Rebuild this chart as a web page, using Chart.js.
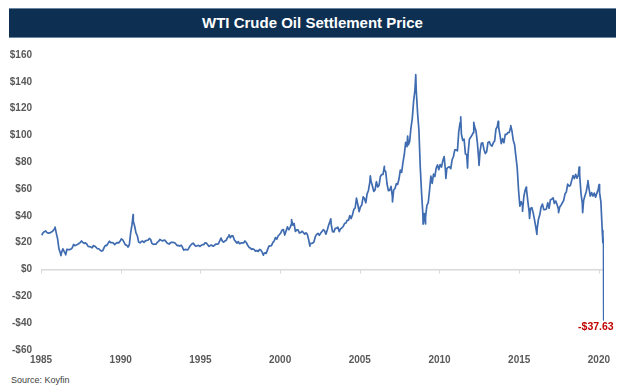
<!DOCTYPE html>
<html>
<head>
<meta charset="utf-8">
<script src="https://cdn.jsdelivr.net/npm/chart.js@4/dist/chart.umd.min.js"></script>
<style>
  body { margin: 0; width: 625px; height: 391px; background: #fff; position: relative; overflow: hidden; font-family: "Liberation Sans", Arial, sans-serif; }
  #title-bar { position: absolute; left: 9px; top: 8px; width: 607px; height: 30px; box-sizing: border-box;
    background: #0c2f52; border-top: 1px solid #6b84a0; border-bottom: 1px solid #6b84a0;
    color: #fff; font-weight: bold; font-size: 15px; text-align: center; line-height: 28px; }
  #chart-wrap { position: absolute; left: 0; top: 40px; width: 625px; height: 330px; }
  #source { position: absolute; left: 11px; top: 375px; font-size: 9px; color: #404040; }
</style>
</head>
<body>
<div id="title-bar">WTI Crude Oil Settlement Price</div>
<div id="chart-wrap"><canvas id="oilChart"></canvas></div>
<div id="source">Source: Koyfin</div>

<script>
const startYear = 1985;

// monthly settlement levels, Jan 1985 .. Mar 2020
const monthlyPrice = [
    25.6, 27.3, 28.2, 28.8, 27.6, 27.1, 27.3, 27.8, 28.3, 29.5, 30.8, 27.2, // 1985
    22.9, 15.5, 12.6, 12.8, 15.4, 13.4, 11.6, 15.1, 14.9, 14.9, 15.2, 16.1, // 1986
    18.7, 17.8, 18.3, 18.7, 19.4, 20.1, 21.3, 20.3, 19.5, 19.9, 18.9, 17.3, // 1987
    17.1, 16.8, 16.2, 17.9, 17.4, 16.5, 15.5, 15.5, 14.5, 13.8, 14.1, 16.4, // 1988
    18.0, 17.9, 19.5, 21.1, 20.1, 20.1, 19.8, 18.6, 19.6, 20.1, 19.9, 21.1, // 1989
    22.9, 22.1, 20.4, 18.4, 18.2, 16.7, 18.5, 27.3, 33.5, 36.0, 32.3, 27.3, // 1990
    25.2, 20.5, 19.9, 20.8, 21.2, 20.2, 21.4, 21.7, 21.9, 23.2, 22.5, 19.5, // 1991
    18.8, 19.0, 18.9, 20.2, 21.0, 22.4, 21.8, 21.3, 21.9, 21.7, 20.3, 19.4, // 1992
    19.0, 20.1, 20.3, 20.3, 20.0, 19.1, 17.9, 18.0, 17.5, 18.2, 16.6, 14.5, // 1993
    15.0, 14.8, 14.7, 16.4, 17.9, 19.1, 19.7, 18.4, 17.5, 17.7, 18.1, 17.2, // 1994
    18.0, 18.6, 18.5, 19.9, 19.7, 18.5, 17.3, 18.0, 18.2, 17.4, 18.0, 19.0, // 1995
    18.9, 19.1, 21.3, 23.5, 21.2, 20.4, 21.3, 21.9, 24.0, 24.9, 23.7, 25.2, // 1996
    25.1, 22.2, 21.0, 19.7, 20.8, 19.3, 19.7, 20.0, 19.8, 21.3, 20.2, 18.3, // 1997
    16.7, 16.1, 15.1, 15.4, 14.9, 13.7, 14.2, 13.5, 15.0, 14.5, 13.0, 11.4, // 1998
    12.5, 12.0, 14.7, 17.3, 17.7, 17.9, 20.1, 21.3, 23.8, 22.7, 25.0, 26.1, // 1999
    27.3, 29.4, 29.8, 25.7, 28.8, 31.8, 29.7, 31.3, 33.9, 33.1, 34.4, 28.4, // 2000
    29.6, 29.6, 27.3, 27.5, 28.6, 27.6, 26.4, 27.4, 26.2, 22.2, 19.6, 19.4, // 2001
    19.7, 20.7, 24.5, 26.2, 27.0, 25.5, 27.0, 28.4, 29.7, 28.8, 26.4, 29.5, // 2002
    33.0, 35.8, 33.5, 28.2, 28.1, 30.7, 30.8, 31.6, 28.3, 30.3, 31.1, 32.1, // 2003
    34.3, 34.7, 36.7, 36.8, 40.3, 38.0, 40.8, 44.9, 45.9, 53.3, 48.5, 43.2, // 2004
    46.8, 48.2, 54.2, 53.0, 49.8, 56.4, 59.0, 65.0, 65.6, 62.3, 58.3, 59.4, // 2005
    65.5, 61.6, 62.7, 69.4, 70.8, 71.0, 74.4, 73.0, 63.8, 58.9, 59.1, 62.0, // 2006
    54.5, 59.3, 60.4, 64.0, 63.5, 67.5, 74.1, 72.4, 79.9, 85.8, 94.8, 91.7, // 2007
    93.0, 95.4, 105.5, 112.6, 125.4, 133.9, 133.4, 116.7, 104.1, 76.6, 57.3, 41.1, // 2008
    41.7, 39.1, 47.9, 49.7, 59.0, 69.6, 64.2, 71.1, 69.4, 75.7, 78.0, 74.5, // 2009
    78.3, 76.4, 81.2, 84.3, 73.7, 75.3, 76.3, 76.6, 75.2, 81.9, 84.3, 89.2, // 2010
    89.2, 88.6, 102.9, 109.5, 100.9, 96.3, 97.3, 86.3, 85.5, 86.3, 97.2, 98.6, // 2011
    100.3, 102.2, 106.2, 103.3, 94.7, 82.3, 87.9, 94.1, 94.5, 89.5, 86.5, 87.9, // 2012
    94.8, 95.3, 92.9, 92.0, 94.5, 95.8, 104.7, 106.6, 106.3, 100.5, 93.9, 97.6, // 2013
    94.6, 100.8, 100.8, 102.1, 102.2, 105.8, 103.6, 96.5, 93.2, 84.4, 75.8, 59.3, // 2014
    47.2, 50.6, 47.8, 54.5, 59.3, 59.8, 50.9, 42.9, 45.5, 46.2, 42.4, 37.2, // 2015
    31.7, 30.3, 37.6, 40.8, 46.7, 48.8, 44.7, 44.7, 45.2, 49.8, 45.7, 52.0, // 2016
    52.5, 53.5, 49.3, 51.1, 48.5, 45.2, 46.6, 48.0, 49.8, 51.6, 56.6, 57.9, // 2017
    63.7, 62.2, 62.7, 66.3, 70.0, 67.9, 71.0, 68.1, 70.2, 70.8, 57.0, 49.5, // 2018
    51.4, 55.0, 58.2, 63.9, 60.8, 54.7, 57.4, 54.8, 57.0, 54.0, 57.0, 59.9, // 2019
    57.5, 50.5, 29.2                                                        // 2020
];

// single-day highs and lows visible on the chart (decimal year)
const dailyDates = [
    1985.88, 1986.25, 1986.55, 1990.78, 1996.80, 1998.95, 2000.72, 2001.87,
    2003.18, 2005.66, 2006.54, 2007.05, 2008.00, 2008.51, 2008.97, 2009.12,
    2010.40, 2011.33, 2011.76, 2012.15, 2012.48, 2013.68, 2014.47, 2015.21,
    2015.44, 2015.65, 2016.11, 2017.47, 2018.76, 2018.98, 2019.31, 2020.01,
    2020.245, 2020.255, 2020.29, 2020.30
];
const dailyPrices = [
    31.7, 10.4, 11.0, 41.0, 25.9, 10.8, 37.2, 17.5,
    37.8, 69.8, 77.0, 50.5, 99.6, 145.3, 33.9, 34.0,
    68.0, 113.9, 75.7, 109.8, 77.7, 110.5, 107.3, 43.5,
    61.4, 38.2, 26.2, 42.5, 76.4, 42.5, 66.3, 63.3,
    20.1, 25.3, 18.3, -37.63
];

const xTicks = [1985, 1990, 1995, 2000, 2005, 2010, 2015, 2020];
const yMin = -60, yMax = 160, yStep = 20;

const points = monthlyPrice.map((p, i) => ({ x: startYear + (i + 0.5) / 12, y: p }))
    .concat(dailyDates.map((d, i) => ({ x: d, y: dailyPrices[i] })))
    .sort((a, b) => a.x - b.x);

const fmtDollar = v => (v < 0 ? '-$' : '$') + Math.abs(v);
const axisFont = { family: '"Liberation Sans", Arial, sans-serif', size: 10, weight: 'bold' };

// zero line tick marks + low label
const decorPlugin = {
    id: 'decor',
    afterDatasetsDraw(chart) {
        const ctx = chart.ctx;
        const xs = chart.scales.x, ys = chart.scales.y;
        const y0 = ys.getPixelForValue(0);
        ctx.save();
        ctx.strokeStyle = '#d9d9d9';
        ctx.lineWidth = 1;
        xTicks.forEach(v => {
            const px = Math.round(xs.getPixelForValue(v)) + 0.5;
            ctx.beginPath();
            ctx.moveTo(px, y0);
            ctx.lineTo(px, y0 + 4);
            ctx.stroke();
        });

        const low = points.reduce((m, p) => (p.y < m.y ? p : m), points[0]);
        const lx = xs.getPixelForValue(low.x), ly = ys.getPixelForValue(low.y);
        ctx.fillStyle = '#c00000';
        ctx.font = 'bold 10.5px "Liberation Sans", Arial, sans-serif';
        ctx.textAlign = 'right';
        ctx.textBaseline = 'top';
        ctx.fillText('-$' + Math.abs(low.y).toFixed(2), lx + 10, ly + 2);
        ctx.restore();
    }
};

new Chart(document.getElementById('oilChart'), {
    type: 'line',
    data: {
        datasets: [{
            data: points,
            borderColor: '#3f6bb0',
            borderWidth: 1.7,
            borderJoinStyle: 'round',
            pointRadius: 0,
            tension: 0,
            fill: false
        }]
    },
    options: {
        responsive: true,
        maintainAspectRatio: false,
        animation: false,
        layout: { padding: { top: 15, right: 21, left: 0, bottom: 0 } },
        plugins: { legend: { display: false }, tooltip: { enabled: false } },
        scales: {
            x: {
                type: 'linear',
                min: 1985,
                max: 2020.32,
                afterBuildTicks: s => { s.ticks = xTicks.map(v => ({ value: v })); },
                grid: { display: false, drawTicks: false },
                border: { display: false },
                ticks: { font: axisFont, color: '#595959', padding: 4, maxRotation: 0, autoSkip: false, callback: v => String(v) }
            },
            y: {
                min: yMin,
                max: yMax,
                afterFit: s => { s.width = 41; },
                grid: {
                    drawTicks: false,
                    lineWidth: 1.5,
                    color: c => (c.tick && c.tick.value === 0 ? '#d9d9d9' : 'rgba(0,0,0,0)')
                },
                border: { display: false },
                ticks: { stepSize: yStep, font: axisFont, color: '#595959', padding: 9, callback: fmtDollar }
            }
        }
    },
    plugins: [decorPlugin]
});
</script>
</body>
</html>
